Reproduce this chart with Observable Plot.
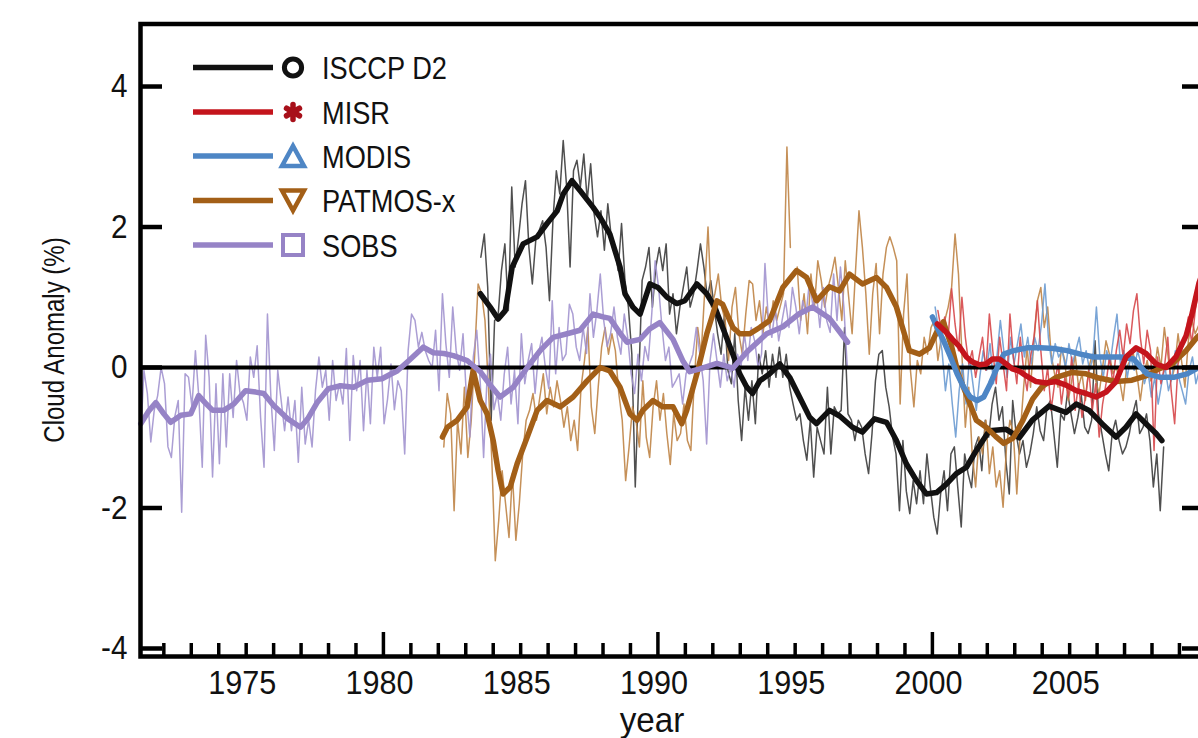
<!DOCTYPE html>
<html><head><meta charset="utf-8">
<script src="https://cdn.jsdelivr.net/npm/d3@7"></script>
<script src="https://cdn.jsdelivr.net/npm/@observablehq/plot@0.6"></script>
<style>
html,body{margin:0;padding:0;background:#fff;overflow:hidden;}
#chart{position:relative;width:1206px;height:738px;overflow:hidden;}
#chart svg{max-width:none !important;display:block;}
</style></head><body><div id="chart"></div>
<script>
// ---- categories / legend ----
const seriesNames = ["ISCCP D2", "MISR", "MODIS", "PATMOS-x", "SOBS"];
const thickColors = {"ISCCP D2":"#111111","MISR":"#c4141c","MODIS":"#4e86c5","PATMOS-x":"#a35f17","SOBS":"#9683c6"};
const thinColors  = {"ISCCP D2":"#3c3c3c","MISR":"#d6474a","MODIS":"#6c9bd2","PATMOS-x":"#bf8446","SOBS":"#a293cf"};
const yTitle = "Cloud Anomaly (%)";
const xTitle = "year";

// ---- tick labels ----
const xTickLabels = [1975, 1980, 1985, 1990, 1995, 2000, 2005];
const xMajorTicks = [1980, 1990, 2000];
const xMinorTicks = [1972,1973,1974,1975,1976,1977,1978,1979,1981,1982,1983,1984,1985,1986,1987,1988,1989,1991,1992,1993,1994,1995,1996,1997,1998,1999,2001,2002,2003,2004,2005,2006,2007,2008,2009];
const yTicks = [-4, -2, 0, 2, 4];

// ---- monthly-ish anomalies (values every 1/8 year from a start year) ----
const thinStep = 1 / 8;
const sobsThinStart = 1971.15;
const sobsThin = [-1.04,-0.04,-0.37,-1.06,-0.61,-0.40,0,-0.23,-1.13,-1.28,-0.70,-0.47,-2.06,
-0.09,-0.14,-0.56,0.24,-0.42,-1.42,0.46,-0.14,-1.56,-0.23,-1.37,-0.09,-1.13,-0.09,-0.71,0.10,-0.37,-0.5,-0.75,0.15,-0.14,0.31,-0.71,-1.42,0.76,
-0.42,-1.18,-0.04,-0.47,-0.90,-0.42,-0.90,-0.47,-1.35,-0.28,-1.09,-0.75,-1.13,-0.33,0.15,-0.28,-0.04,-0.75,0.10,-0.47,-0.23,-0.52,0.27,-1.04,0.17,-0.33,0.10,-0.90,-0.04,-0.80,0.29,-0.14,0.29,-0.80,
-0.45,0.05,-0.6,
-0.19,-0.33,-1.23,0.24,0.76,0.67,0.29,0.50,0.24,0.10,0.0,0.53,-0.33,1.05,0.34,-0.14,0.86,0.24,-0.04,0.48,-0.42,-0.99,0.15,0.53,-0.19,-1.28,-0.14,
0.19,-0.6,-0.37,-0.75,-0.1,0.29,-0.52,-0.04,-0.8,0.48,-0.23,0.1,0.34,-0.37,0.2,0.43,0.0,-0.3,0.95,-0.09,0.57,0.1,0.19,0.9,0.76,0.29,0.1,0.57,0.2,1.05,0.43,0.8,1.33,0.67,0.3,0.48,
0.86,0.43,0.19,0.76,0.43,-0.09,-0.37,0.19,-0.19,0.3,0.1,0.76,1.52,1.14,0.57,0.10,0.29,-0.28,-0.19,-0.09,-0.52,-0.09,0.05,0.19,0.57,0.2,-0.19,-1.09,0.10,0.48,0.10,-0.28,0.19,-0.19,0.0,-0.28,0.19,0.0,0.48,0.10,0.57,0.38,0.0,0.19,1.48,0.67,0.43,0.86,0.38,0.67,0.95,0.57,1.14,0.86,0.48,0.95,0.76,1.24,0.86,1.05,0.57,1.14,0.67,0.5,
1.33,0.67,1.43,0.86,0.0];

const isccpThinStart = 1983.55;
const isccpThin = [1.57,1.90,1.14,-0.75,0.67,0.72,1.38,1.76,0.81,2.57,1.43,1.86,2.33,2.66,1.71,1.19,1.81,1.95,2.09,1.71,0.95,2.09,2.80,2.47,3.23,2.57,1.43,2.80,2.95,2.57,3.04,2.38,2.90,2.19,1.86,2.23,1.67,2.33,1.86,
1.71,1.38,2.05,1.24,0.86,0.19,-1.70,-0.19,1.24,1.43,1.71,0.86,1.43,1.71,1.38,1.76,0.76,1.05,0.48,0.86,1.14,1.43,0.86,1.05,1.38,1.76,1.43,1.0,1.24,0.86,0.48,0.19,0.76,-0.04,-0.23,0.48,-0.47,-1.04,-0.28,-0.75,-0.19,-0.80,0.19,-0.09,0.24,-0.28,0.19,-0.14,0.29,-0.14,0.19,-0.28,-0.52,-0.75,-0.66,-1.04,-1.32,-0.75,-1.56,-0.85,-1.04,-1.23,-0.28,
-1.23,-0.56,-0.66,-0.61,0.57,-0.66,-0.75,-1.04,-0.75,-0.85,-1.23,-1.51,-0.94,-0.19,0.19,0.24,-0.28,-0.56,-0.99,-1.23,-2.04,-1.04,-1.76,-2.08,-1.61,-1.94,-1.47,-1.94,-1.23,-1.71,-2.13,-2.37,-1.80,-1.47,-2.04,-1.23,-1.13,-1.71,-2.27,-1.23,-1.51,-1.71,-1.13,-0.99,-1.47,-0.75,-0.99,-0.52,-0.28,-0.75,
-0.56,-1.32,-1.80,-0.47,-0.94,-1.23,-1.04,-1.42,-1.23,-0.94,-0.56,-0.90,-1.04,-0.56,-0.47,-0.94,-1.42,-0.66,-0.75,-0.35,-0.66,-0.94,-0.71,-0.40,-0.85,-0.94,-0.75,0.38,-0.66,-0.94,-1.23,-1.47,-0.94,-0.75,-1.04,-1.23,-1.13,-0.94,-0.66,-0.47,-0.94,-0.85,-0.66,-1.04,-1.70,-1.23,-2.04,-1.13];

const patmosThinStart = 1982.2;
const patmosThin = [-1.13,-0.37,-0.66,-2.04,-0.75,-1.23,-0.28,-1.28,-0.75,0.19,1.19,1.05,0.67,-0.28,-1.32,-2.75,-2.18,-1.47,-1.94,-2.42,-1.51,-2.46,-1.94,-1.23,-0.75,-0.61,-0.37,-0.75,-0.42,-0.09,-0.66,-0.28,-0.56,-0.19,-0.47,-0.85,-0.56,-1.04,-0.75,-1.18,-0.28,0.10,0.57,-0.56,-0.94,-0.28,0.29,0.57,0.19,0.48,
0.24,-0.37,-0.75,-1.61,-1.13,-0.56,-0.75,-1.13,-0.19,-0.99,-1.28,-0.56,-0.19,-0.75,-0.37,-0.94,-1.38,-0.66,-1.04,-0.94,-0.52,-1.04,-1.18,-0.19,0.57,0.19,1.05,2.0,
0.86,1.05,1.33,0.86,0.67,0.10,0.86,1.14,0.48,0.19,0.76,1.24,1.19,0.67,0.95,0.48,0.86,0.57,0.95,0.67,0.86,1.05,3.14,1.71,
null,
1.43,0.67,1.05,0.48,1.33,0.86,1.52,1.24,0.86,1.14,1.33,
1.57,1.14,0.67,1.52,1.0,0.48,1.38,2.23,1.71,1.05,0.19,1.05,1.48,0.48,1.33,1.71,1.86,1.71,1.52,-0.52,0.76,1.33,-0.04,-0.56,0.10,-0.09,0.43,0.19,0.57,0.67,0.10,0.43,0.67,0.86,1.14,1.90,1.33,0.19,-0.85,-0.28,-1.23,-1.70,-0.99,-1.23,-0.75,-1.51,-1.13,-1.70,-1.47,-1.99,-1.13,-0.75,-0.94,
-1.80,-0.94,-0.28,0.29,-0.28,0.38,0.95,1.14,0.57,0.86,0.19,-0.09,-0.28,0.29,0.10,-0.47,-0.19,0.19,-0.28,-0.09,-0.47,0.0,0.19,-0.19,-0.37,0.0,0.38,0.19,-0.09,0.0,-0.19,-0.47,0.0,0.10,0.19,-0.09,-0.47,-0.09,0.10,-0.19,-0.09,0.29,0.0,0.57,0.19,-0.19,0.0,0.48,0.10,-0.28,0.38,0.67,0.48,0.6,0.9];

const misrThinStart = 2000.2;
const misrThin = [0.81,0.53,0.72,0.43,1.12,0.62,0.24,1.0,0.43,0.05,0.24,-0.14,0.15,0.43,-0.04,0.76,0.24,-0.23,0.43,0.05,-0.33,0.76,0.15,-0.23,0.43,-0.04,-0.33,0.15,0.43,0.95,0.24,-0.33,0.0,-0.61,-0.23,0.05,-0.52,-0.14,-0.42,0.15,-0.61,-0.23,-0.71,-0.42,-0.04,-0.61,-0.23,-0.99,-0.52,-0.23,0.15,-0.23,0.24,0.53,0.15,0.62,0.34,0.81,1.05,0.43,0.05,0.53,0.24,-1.18,0.15,-0.23,0.0,0.43,-0.33,-0.8,0.05,0.24,0.43,0.72,0.34,0.81,1.10,1.33];

const modisThinStart = 2000.1;
const modisThin = [0.86,0.53,0.24,-0.33,0.05,-0.52,-0.99,-0.33,0.05,-0.52,0.15,-0.23,-0.61,-0.14,0.24,-0.04,0.34,-0.23,0.15,0.67,0.24,-0.14,0.43,0.05,0.34,0.62,0.15,0.43,0.05,0.43,0.24,0.62,1.19,0.43,0.05,0.34,0.15,0.24,0.0,0.34,0.05,0.24,0.43,0.05,0.24,-0.04,0.15,0.86,0.15,-0.14,0.24,0.05,0.43,0.76,0.05,0.24,-0.14,0.15,-0.04,0.24,0.05,-0.23,-0.04,-0.42,-0.14,-0.52,-0.23,0.0,-0.33,-0.14,0.24,-0.14,-0.33,-0.52,-0.04,0.15,-0.23,-0.04,0.15];

// ---- running-mean (thick) curves: [year, anomaly] ----
const isccpSmooth = [[1983.53,1.05],[1983.89,0.86],[1984.18,0.69],[1984.44,0.81],[1984.69,1.43],[1985.09,1.76],[1985.6,1.86],[1985.96,2.05],[1986.33,2.23],[1986.55,2.47],[1986.87,2.66],[1987.16,2.52],[1987.64,2.28],[1987.89,2.14],[1988.25,1.90],[1988.62,1.43],[1988.8,1.05],[1989.09,0.86],[1989.35,0.76],[1989.71,1.19],[1990.0,1.14],[1990.33,1.00],[1990.69,0.91],[1990.98,0.95],[1991.42,1.19],[1991.78,1.05],[1992.07,0.86],[1992.36,0.57],[1992.73,0.19],[1992.98,-0.09],[1993.24,-0.28],[1993.45,-0.37],[1993.71,-0.19],[1994.07,-0.09],[1994.44,0.05],[1994.8,-0.14],[1995.16,-0.42],[1995.53,-0.71],[1995.78,-0.80],[1996.25,-0.61],[1996.62,-0.69],[1997.09,-0.85],[1997.45,-0.92],[1997.89,-0.73],[1998.33,-0.78],[1998.69,-1.04],[1999.05,-1.37],[1999.42,-1.61],[1999.78,-1.80],[2000.15,-1.78],[2000.51,-1.66],[2000.87,-1.51],[2001.24,-1.42],[2001.6,-1.18],[2002.07,-0.90],[2002.69,-0.88],[2003.16,-1.0],[2003.64,-0.75],[2004.25,-0.55],[2004.87,-0.64],[2005.24,-0.52],[2005.71,-0.61],[2006.18,-0.80],[2006.69,-0.99],[2007.05,-0.85],[2007.42,-0.66],[2007.78,-0.80],[2008.15,-0.94],[2008.36,-1.04]];

const misrSmooth = [[2000.18,0.62],[2000.51,0.50],[2000.73,0.40],[2000.98,0.30],[2001.24,0.15],[2001.45,0.08],[2001.71,0.04],[2001.96,0.05],[2002.18,0.12],[2002.44,0.12],[2002.69,0.05],[2002.91,-0.02],[2003.16,-0.05],[2003.42,-0.12],[2003.78,-0.20],[2004.15,-0.22],[2004.51,-0.20],[2004.87,-0.25],[2005.24,-0.33],[2005.6,-0.37],[2005.96,-0.42],[2006.33,-0.35],[2006.69,-0.20],[2007.05,0.15],[2007.42,0.28],[2007.78,0.20],[2008.15,0.05],[2008.51,0.0],[2008.87,0.15],[2009.24,0.45],[2009.45,0.75],[2009.71,1.2],[2009.84,1.35]];

const modisSmooth = [[2000.0,0.72],[2000.17,0.57],[2000.41,0.38],[2000.66,0.15],[2000.9,-0.09],[2001.14,-0.28],[2001.38,-0.42],[2001.63,-0.47],[2001.87,-0.42],[2002.11,-0.23],[2002.36,0.0],[2002.6,0.19],[2002.96,0.24],[2003.45,0.28],[2003.93,0.28],[2004.42,0.27],[2004.91,0.24],[2005.39,0.19],[2005.88,0.15],[2006.36,0.15],[2006.85,0.15],[2007.33,0.12],[2007.82,-0.09],[2008.31,-0.14],[2008.79,-0.14],[2009.28,-0.09],[2009.69,0.0],[2009.84,0.02]];

const patmosSmooth = [[1982.15,-0.99],[1982.33,-0.85],[1982.69,-0.75],[1983.05,-0.56],[1983.27,-0.04],[1983.53,-0.47],[1983.78,-0.66],[1984.0,-1.04],[1984.18,-1.47],[1984.36,-1.80],[1984.62,-1.70],[1984.87,-1.37],[1985.24,-0.99],[1985.6,-0.61],[1985.96,-0.47],[1986.44,-0.56],[1986.91,-0.42],[1987.42,-0.19],[1987.9,0.0],[1988.25,-0.05],[1988.62,-0.28],[1988.98,-0.66],[1989.24,-0.75],[1989.45,-0.61],[1989.82,-0.47],[1990.18,-0.56],[1990.55,-0.56],[1990.87,-0.80],[1991.05,-0.61],[1991.42,-0.09],[1991.78,0.48],[1992.15,0.95],[1992.36,0.90],[1992.73,0.57],[1992.98,0.48],[1993.35,0.48],[1993.71,0.57],[1994.07,0.67],[1994.55,1.14],[1995.05,1.38],[1995.42,1.28],[1995.78,0.95],[1996.25,1.15],[1996.62,1.09],[1996.98,1.33],[1997.45,1.19],[1997.96,1.28],[1998.33,1.14],[1998.69,0.86],[1998.91,0.57],[1999.16,0.24],[1999.53,0.19],[1999.89,0.28],[2000.15,0.5],[2000.4,0.65],[2000.7,0.3],[2000.95,-0.1],[2001.3,-0.45],[2001.6,-0.75],[2001.96,-0.85],[2002.3,-0.98],[2002.6,-1.08],[2002.95,-1.0],[2003.3,-0.75],[2003.65,-0.45],[2004.0,-0.27],[2004.51,-0.14],[2005.09,-0.07],[2005.6,-0.09],[2006.07,-0.15],[2006.69,-0.20],[2007.27,-0.18],[2007.78,-0.12],[2008.25,-0.02],[2008.73,0.05],[2009.24,0.24],[2009.64,0.43],[2009.84,0.5]];

const sobsSmooth = [[1971.16,-0.80],[1971.45,-0.62],[1971.71,-0.50],[1972.0,-0.66],[1972.25,-0.78],[1972.62,-0.68],[1972.98,-0.66],[1973.27,-0.40],[1973.5,-0.50],[1973.78,-0.61],[1974.18,-0.61],[1974.55,-0.52],[1974.98,-0.33],[1975.35,-0.35],[1975.64,-0.37],[1976.0,-0.54],[1976.51,-0.73],[1976.98,-0.85],[1977.24,-0.73],[1977.6,-0.49],[1978.0,-0.30],[1978.44,-0.26],[1978.91,-0.28],[1979.42,-0.18],[1979.95,-0.16],[1980.24,-0.10],[1980.5,-0.05],[1980.93,0.10],[1981.45,0.29],[1981.82,0.21],[1982.2,0.20],[1982.55,0.17],[1983.05,0.10],[1983.53,-0.06],[1983.89,-0.25],[1984.25,-0.42],[1984.73,-0.28],[1985.24,0.0],[1985.71,0.24],[1986.18,0.43],[1986.69,0.48],[1987.16,0.53],[1987.64,0.76],[1988.0,0.72],[1988.25,0.70],[1988.6,0.50],[1988.87,0.36],[1989.35,0.40],[1989.7,0.55],[1990.07,0.64],[1990.55,0.40],[1990.9,0.10],[1991.16,-0.06],[1991.53,-0.02],[1992.15,0.06],[1992.73,-0.01],[1993.24,0.22],[1993.96,0.48],[1994.55,0.58],[1995.16,0.77],[1995.64,0.86],[1996.25,0.70],[1996.6,0.52],[1996.91,0.36]];

// ---- build tables ----
const regular = (start, vals) => vals.map((v, i) => ({year: start + i * thinStep, value: v}));
const pairs = arr => arr.map(([year, value]) => ({year, value}));
const thin = {
  "ISCCP D2": regular(isccpThinStart, isccpThin),
  "PATMOS-x": regular(patmosThinStart, patmosThin),
  "SOBS": regular(sobsThinStart, sobsThin),
  "MODIS": regular(modisThinStart, modisThin),
  "MISR": regular(misrThinStart, misrThin)
};
const thick = {
  "ISCCP D2": pairs(isccpSmooth),
  "PATMOS-x": pairs(patmosSmooth),
  "SOBS": pairs(sobsSmooth),
  "MODIS": pairs(modisSmooth),
  "MISR": pairs(misrSmooth)
};
const drawOrder = ["ISCCP D2", "PATMOS-x", "SOBS", "MODIS", "MISR"];

const W = 1206, H = 738, mL = 140, mR = 4, mT = 23.5, mB = 82;
const fw = W - mL - mR, fh = H - mT - mB;
const FONT = "'Liberation Sans', Arial, Helvetica, sans-serif";

const plot = Plot.plot({
  width: W, height: H,
  marginLeft: mL, marginRight: mR, marginTop: mT, marginBottom: mB,
  x: {domain: [1971.15, 2009.84]},
  y: {domain: [-4.114, 4.89]},
  style: {background: "transparent", fontFamily: FONT, color: "#111"},
  marks: [
    ...drawOrder.map(s => Plot.line(thin[s], {x: "year", y: "value", stroke: thinColors[s], strokeWidth: 1.5, strokeOpacity: 0.9})),
    Plot.ruleY([0], {stroke: "#000", strokeWidth: 4}),
    ...drawOrder.map(s => Plot.line(thick[s], {x: "year", y: "value", stroke: thickColors[s], strokeWidth: 5.5})),
    Plot.ruleX(xMinorTicks, {x: d => d, stroke: "#000", strokeWidth: 3.5, insetTop: fh - 13}),
    Plot.ruleX(xMajorTicks, {x: d => d, stroke: "#000", strokeWidth: 3.5, insetTop: fh - 24}),
    Plot.ruleY(yTicks, {y: d => d, stroke: "#000", strokeWidth: 4.5, insetRight: fw - 22}),
    Plot.ruleY(yTicks, {y: d => d, stroke: "#000", strokeWidth: 4.5, insetLeft: fw - 20}),
    Plot.frame({stroke: "#000", strokeWidth: 4.5}),
    Plot.axisX({ticks: xTickLabels, tickSize: 0, tickPadding: 13, fontSize: 34, tickFormat: d => String(d), label: null, dx: -4}),
    Plot.axisY({ticks: yTicks, tickSize: 0, tickPadding: 13, fontSize: 33, tickFormat: d => String(d), label: null})
  ]
});

// condensed text look for tick labels
const SX = 0.9;
plot.querySelectorAll("text").forEach(t => {
  const tr = t.getAttribute("transform");
  if (tr) t.setAttribute("transform", tr + ` scale(${SX},1)`);
  else {
    const x = parseFloat(t.getAttribute("x")) || 0;
    t.setAttribute("transform", `translate(${x},0) scale(${SX},1) translate(${-x},0)`);
  }
});

const svg = d3.select(plot);
// axis titles
svg.append("text").attr("transform", "translate(64,340) rotate(-90) scale(0.8,1)")
  .attr("text-anchor", "middle").attr("font-family", FONT).attr("font-size", 30).attr("fill", "#111").text(yTitle);
svg.append("text").attr("transform", "translate(652,732) scale(0.95,1)")
  .attr("text-anchor", "middle").attr("font-family", FONT).attr("font-size", 35).attr("fill", "#111").text(xTitle);

// legend
const lg = svg.append("g").attr("font-family", FONT);
const rowY = [67.5, 112, 156, 200.5, 245];
const symX = 293;
seriesNames.forEach((name, i) => {
  const y = rowY[i], c = thickColors[name];
  lg.append("line").attr("x1", 193).attr("x2", 273).attr("y1", y).attr("y2", y)
    .attr("stroke", c).attr("stroke-width", 5.5);
  if (name === "ISCCP D2") {
    lg.append("circle").attr("cx", symX).attr("cy", y).attr("r", 8.6).attr("fill", "none").attr("stroke", c).attr("stroke-width", 5);
  } else if (name === "MISR") {
    const g = lg.append("g").attr("transform", `translate(${symX},${y})`);
    for (let k = 0; k < 3; k++) {
      const a = Math.PI / 2 + k * Math.PI / 3;
      g.append("line").attr("x1", -7.5 * Math.cos(a)).attr("y1", -7.5 * Math.sin(a))
        .attr("x2", 7.5 * Math.cos(a)).attr("y2", 7.5 * Math.sin(a))
        .attr("stroke", "#a8101a").attr("stroke-width", 5.5).attr("stroke-linecap", "round");
    }
    g.append("circle").attr("r", 5).attr("fill", "#a8101a");
  } else if (name === "MODIS") {
    lg.append("path").attr("d", `M${symX - 11},${y + 10}L${symX + 11},${y + 10}L${symX},${y - 10}Z`)
      .attr("fill", "none").attr("stroke", c).attr("stroke-width", 4.5);
  } else if (name === "PATMOS-x") {
    lg.append("path").attr("d", `M${symX - 11},${y - 10}L${symX + 11},${y - 10}L${symX},${y + 10}Z`)
      .attr("fill", "none").attr("stroke", c).attr("stroke-width", 4.5);
  } else {
    lg.append("rect").attr("x", symX - 10).attr("y", y - 10).attr("width", 20).attr("height", 20)
      .attr("fill", "none").attr("stroke", c).attr("stroke-width", 4);
  }
  lg.append("text").attr("transform", `translate(322,${y + 11.5}) scale(0.85,1)`)
    .attr("text-anchor", "start").attr("font-size", 32).attr("fill", "#111").text(name);
});

document.getElementById("chart").appendChild(plot);
</script></body></html>
